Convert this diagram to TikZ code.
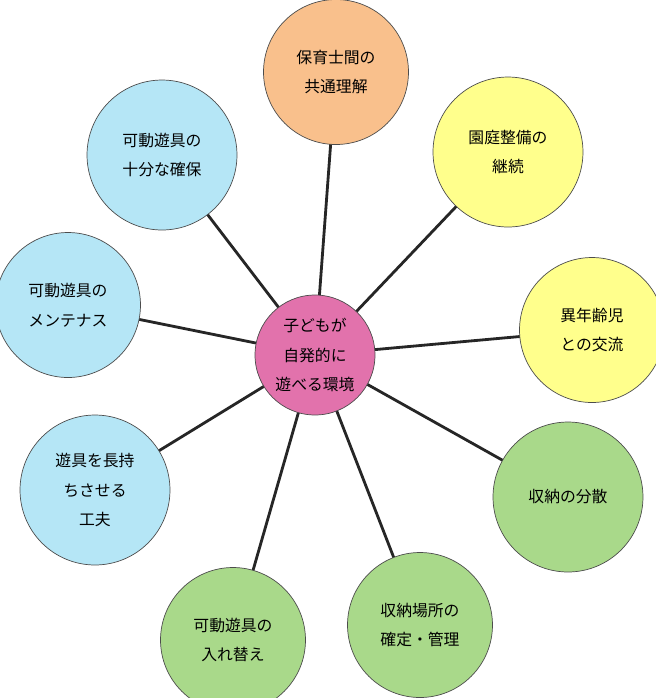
\documentclass[tikz,border=0pt]{standalone}
\usepackage{fontspec}
\newfontfamily\jp{Noto Sans CJK JP}
\usetikzlibrary{backgrounds}
\definecolor{orangeC}{HTML}{F9C08C}
\definecolor{yellowC}{HTML}{FFFF8C}
\definecolor{greenC}{HTML}{A9D98A}
\definecolor{blueC}{HTML}{B5E6F6}
\definecolor{pinkC}{HTML}{E272AC}
\tikzset{
  idea/.style={circle, draw=black!70, thin, minimum size=#1, inner sep=0pt,
    align=center, font=\jp\fontsize{9}{17}\selectfont},
  link/.style={line width=1.6pt, draw=black!85}
}
\begin{document}
\begin{tikzpicture}[x=0.02cm, y=-0.02cm]
    \useasboundingbox (0,0) rectangle (656,698);
    % centre
    \node[idea=2.4cm, fill=pinkC] (core) at (315,355) {子どもが\\自発的に\\遊べる環境};
    % outer ring
    \node[idea=2.9cm, fill=orangeC] (share) at (336,72) {保育士間の\\共通理解};
    \node[idea=3.0cm, fill=yellowC] (garden) at (508,152) {園庭整備の\\継続};
    \node[idea=2.9cm, fill=yellowC] (age) at (592,330) {異年齢児\\との交流};
    \node[idea=3.0cm, fill=greenC] (store) at (568,497) {収納の分散};
    \node[idea=2.9cm, fill=greenC] (place) at (420,625) {収納場所の\\確定・管理};
    \node[idea=2.9cm, fill=greenC] (swap) at (233,640) {可動遊具の\\入れ替え};
    \node[idea=3.0cm, fill=blueC] (keep) at (95,490) {遊具を長持\\ちさせる\\工夫};
    \node[idea=2.9cm, fill=blueC] (care) at (68,305) {可動遊具の\\メンテナス};
    \node[idea=3.0cm, fill=blueC] (enough) at (162,155) {可動遊具の\\十分な確保};
    % spokes
    \begin{scope}[on background layer]
    \foreach \n in {share,garden,age,store,place,swap,keep,care,enough}
      \draw[link] (core.center) -- (\n.center);
    \end{scope}
\end{tikzpicture}
\end{document}
